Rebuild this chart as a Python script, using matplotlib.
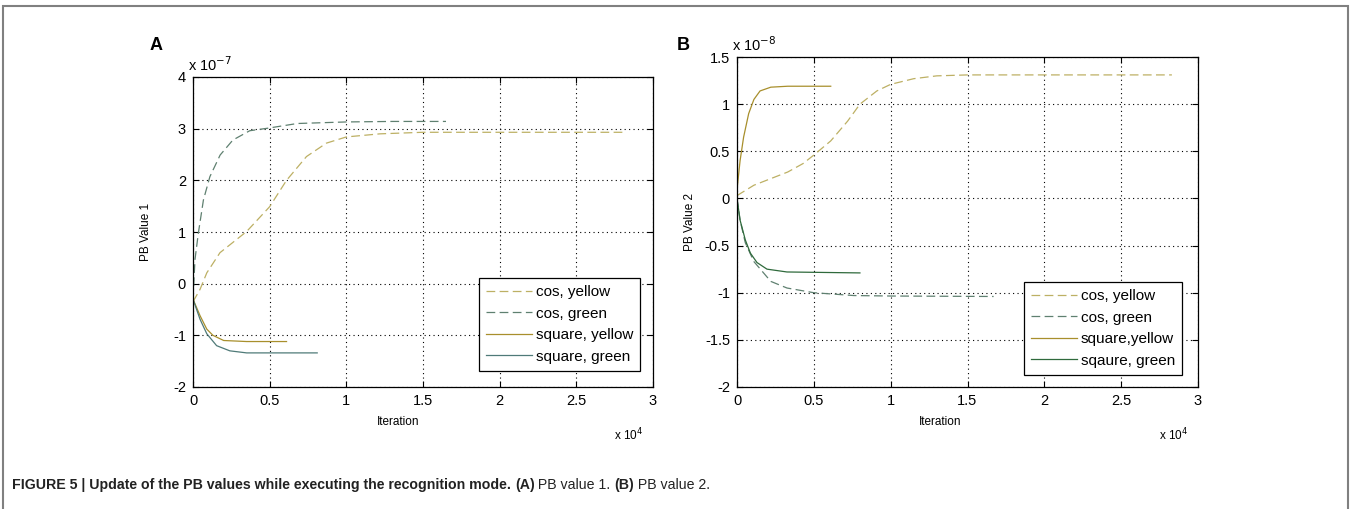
"""Figure 5: update of the PB values in recognition mode."""

import matplotlib

matplotlib.use("Agg")
import matplotlib.pyplot as plt
from matplotlib.patches import Rectangle

plt.rcParams.update({"font.family": ["Liberation Sans", "DejaVu Sans"], "font.size": 10})

# Panel A (iteration in units of 1e4, value in units of 1e-7)
a_cos_yellow_x = [0, 0.046, 0.09, 0.176, 0.35, 0.5, 0.61, 0.74, 0.87, 1.0, 1.22, 1.5, 2.0, 2.82]
a_cos_yellow_y = [-0.35, -0.11, 0.21, 0.6, 1.01, 1.49, 2.0, 2.46, 2.72, 2.84, 2.9, 2.93, 2.93, 2.93]
a_cos_green_x = [0, 0.013, 0.035, 0.068, 0.11, 0.177, 0.26, 0.37, 0.49, 0.68, 1.0, 1.3, 1.65]
a_cos_green_y = [-0.3, 0.47, 0.98, 1.62, 2.07, 2.49, 2.78, 2.96, 3.01, 3.1, 3.13, 3.14, 3.14]
a_sq_yellow_x = [0, 0.046, 0.09, 0.13, 0.2, 0.35, 0.61]
a_sq_yellow_y = [-0.3, -0.62, -0.88, -1.0, -1.1, -1.12, -1.12]
a_sq_green_x = [0, 0.046, 0.09, 0.154, 0.24, 0.35, 0.81]
a_sq_green_y = [-0.3, -0.69, -0.97, -1.2, -1.3, -1.34, -1.34]

# Panel B (iteration in units of 1e4, value in units of 1e-8)
b_cos_yellow_x = [0, 0.11, 0.22, 0.33, 0.43, 0.5, 0.61, 0.72, 0.8, 0.91, 1.0, 1.15, 1.3, 1.5, 2.0, 2.83]
b_cos_yellow_y = [0.03, 0.14, 0.21, 0.28, 0.37, 0.46, 0.61, 0.82, 1.0, 1.14, 1.21, 1.27, 1.3, 1.31, 1.31, 1.31]
b_cos_green_x = [0, 0.02, 0.054, 0.11, 0.22, 0.325, 0.5, 0.76, 1.0, 1.67]
b_cos_green_y = [0, -0.23, -0.47, -0.67, -0.88, -0.95, -1.0, -1.03, -1.035, -1.04]
b_sq_yellow_x = [0, 0.02, 0.043, 0.076, 0.11, 0.15, 0.22, 0.33, 0.61]
b_sq_yellow_y = [0.09, 0.4, 0.65, 0.9, 1.05, 1.14, 1.18, 1.19, 1.19]
b_sq_green_x = [0, 0.02, 0.054, 0.087, 0.13, 0.195, 0.325, 0.8]
b_sq_green_y = [0, -0.23, -0.44, -0.58, -0.68, -0.75, -0.78, -0.79]

x_ticks = [0, 0.5, 1, 1.5, 2, 2.5, 3]
x_ticklabels = ["0", "0.5", "1", "1.5", "2", "2.5", "3"]
a_y_ticks = [-2, -1, 0, 1, 2, 3, 4]
b_y_ticks = [-2, -1.5, -1, -0.5, 0, 0.5, 1, 1.5]
b_y_ticklabels = ["-2", "-1.5", "-1", "-0.5", "0", "0.5", "1", "1.5"]

a_labels = ["cos, yellow", "cos, green", "square, yellow", "square, green"]
b_labels = ["cos, yellow", "cos, green", "square,yellow", "sqaure, green"]

W, H = 1352, 509
fig = plt.figure(figsize=(W / 100, H / 100), dpi=100)

C_COS_Y = "#bdb064"
C_COS_G = "#5f8070"
C_SQ_Y = "#a88f2c"
C_SQ_G_A = "#4f7a78"
C_SQ_G_B = "#2f6a3c"


def px_axes(x0, y0, x1, y1):
    return fig.add_axes([x0 / W, 1 - y1 / H, (x1 - x0) / W, (y1 - y0) / H])


def style(ax):
    ax.grid(True, linestyle=(0, (1, 3)), color="black", linewidth=0.8)
    ax.tick_params(direction="in", length=4, width=0.8, top=True, right=True,
                   labelsize=10.5, pad=5)
    for s in ax.spines.values():
        s.set_linewidth(0.9)
    ax.set_xlim(0, 3)
    ax.set_xticks(x_ticks)
    ax.set_xticklabels(x_ticklabels)


def add_legend(ax, x0, y0):
    leg = ax.legend(loc="upper left", bbox_to_anchor=(x0 / W, 1 - y0 / H),
                    bbox_transform=fig.transFigure, borderaxespad=0, fancybox=False,
                    edgecolor="black", framealpha=1, fontsize=11, handlelength=3.0,
                    labelspacing=0.5, handletextpad=0.25, borderpad=0.45)
    leg.get_frame().set_linewidth(0.9)


dash = (0, (7, 3.5))

# Panel A
ax = px_axes(193, 77, 653, 387)
ax.plot(a_cos_yellow_x, a_cos_yellow_y, color=C_COS_Y, linestyle=dash, lw=0.9, label=a_labels[0])
ax.plot(a_cos_green_x, a_cos_green_y, color=C_COS_G, linestyle=dash, lw=0.9, label=a_labels[1])
ax.plot(a_sq_yellow_x, a_sq_yellow_y, color=C_SQ_Y, lw=0.9, label=a_labels[2])
ax.plot(a_sq_green_x, a_sq_green_y, color=C_SQ_G_A, lw=0.9, label=a_labels[3])
style(ax)
ax.set_ylim(-2, 4)
ax.set_yticks(a_y_ticks)
ax.set_yticklabels([str(v) for v in a_y_ticks])
add_legend(ax, 479, 278)

# Panel B
bx = px_axes(737, 57, 1198, 387)
bx.plot(b_cos_yellow_x, b_cos_yellow_y, color=C_COS_Y, linestyle=dash, lw=0.9, label=b_labels[0])
bx.plot(b_cos_green_x, b_cos_green_y, color=C_COS_G, linestyle=dash, lw=0.9, label=b_labels[1])
bx.plot(b_sq_yellow_x, b_sq_yellow_y, color=C_SQ_Y, lw=0.9, label=b_labels[2])
bx.plot(b_sq_green_x, b_sq_green_y, color=C_SQ_G_B, lw=0.9, label=b_labels[3])
style(bx)
bx.set_ylim(-2, 1.5)
bx.set_yticks(b_y_ticks)
bx.set_yticklabels(b_y_ticklabels)
add_legend(bx, 1024, 282)


def ftext(x, y, s, **kw):
    return fig.text(x / W, 1 - y / H, s, **kw)


# axis labels and exponent notes
ftext(398, 422, "Iteration", ha="center", va="center", fontsize=8.5)
ftext(940, 422, "Iteration", ha="center", va="center", fontsize=8.5)
ftext(146, 232, "PB Value 1", ha="center", va="center", rotation=90, fontsize=8.5)
ftext(690, 222, "PB Value 2", ha="center", va="center", rotation=90, fontsize=8.5)
ftext(188, 71, r"x 10$^{-7}$", ha="left", va="baseline", fontsize=10.5)
ftext(732, 51, r"x 10$^{-8}$", ha="left", va="baseline", fontsize=10.5)
ftext(614, 440, r"x 10$^{4}$", ha="left", va="baseline", fontsize=8.5)
ftext(1159, 440, r"x 10$^{4}$", ha="left", va="baseline", fontsize=8.5)

ftext(150, 45, "A", ha="left", va="center", fontsize=13, fontweight="bold")
ftext(677, 45, "B", ha="left", va="center", fontsize=13, fontweight="bold")

# outer frame
fig.patches.append(Rectangle((3 / W, -0.01), 1345 / W, 1.01 - 6 / H, transform=fig.transFigure,
                             fill=False, edgecolor="#808080", linewidth=1.5))

# caption with mixed weights
cap_font = ["Liberation Sans Narrow", "Liberation Sans", "DejaVu Sans"]
parts = [
    ("FIGURE 5 | Update of the PB values while executing the recognition mode. ", "bold"),
    ("(A)", "bold"),
    (" PB value 1. ", "normal"),
    ("(B)", "bold"),
    (" PB value 2.", "normal"),
]
fig.canvas.draw()
renderer = fig.canvas.get_renderer()
x = 12
for s, w in parts:
    t = ftext(x, 485, s, ha="left", va="center", fontsize=10.2, fontweight=w,
              family=cap_font, color="#222222")
    x += t.get_window_extent(renderer).width

fig.savefig("out.png", dpi=100)
plt.close(fig)
